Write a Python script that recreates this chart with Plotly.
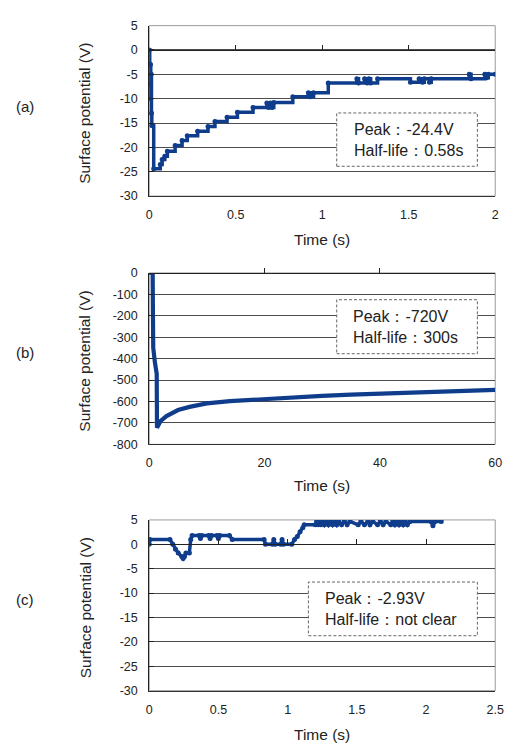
import plotly.graph_objects as go

W, H = 514, 749
LINE_COLOR = "#0f3d8c"
FONT = "Liberation Sans, Arial, sans-serif"

# ---------------- data ----------------
# Panel (a): stepped record, 0-2 s
a_time = [0, 0.003, 0.005, 0.007, 0.009, 0.011, 0.013, 0.015, 0.026, 0.064, 0.075, 0.09,
          0.105, 0.15, 0.19, 0.22, 0.28, 0.34, 0.38, 0.45, 0.51, 0.6, 0.68, 0.69, 0.70,
          0.71, 0.72, 0.83, 0.92, 0.93, 0.95, 1.035, 1.2, 1.21, 1.245, 1.26, 1.27, 1.28,
          1.32, 1.51, 1.56, 1.58, 1.59, 1.62, 1.63, 1.85, 1.86, 1.94, 1.95, 1.96, 2.0]
a_volt = [0, -3, -7, -3, -10, -5, -13, -15.5, -24.4, -23.5, -22.5, -21.8,
          -20.8, -19.6, -18.6, -17.6, -16.7, -15.7, -14.7, -13.8, -12.8, -11.8, -10.9, -11.8, -10.9,
          -11.8, -10.8, -9.6, -8.8, -9.6, -8.8, -6.8, -5.9, -6.8, -5.9, -6.8, -5.9, -6.8,
          -5.9, -6.6, -5.9, -6.6, -5.9, -6.6, -5.9, -5.0, -5.9, -5.0, -5.7, -5.0, -5.0]

# Panel (b): 0-60 s
b_time = [0, 0.6, 0.65, 0.7, 1.0, 1.3, 1.35, 1.6, 2, 3, 4, 5, 7, 10, 14, 20,
          25, 30, 35, 40, 45, 50, 55, 60]
b_volt = [0, 0, -200, -350, -420, -470, -722, -712, -690, -668, -652, -640, -625,
          -609, -598, -588, -580, -574, -568, -564, -559, -555, -550, -546]

# Panel (c): 0-2.11 s
c_time = [0.0, 0.005, 0.15, 0.17, 0.19, 0.21, 0.235, 0.245, 0.255, 0.265, 0.29, 0.30, 0.31,
          0.36, 0.37, 0.38, 0.43, 0.44, 0.45, 0.49, 0.50, 0.51, 0.58, 0.60, 0.83, 0.84,
          0.89, 0.90, 0.91, 0.95, 0.96, 0.97, 1.03, 1.05, 1.07, 1.09, 1.11, 1.12, 1.20,
          1.21, 1.22, 1.23, 1.24, 1.25, 1.265, 1.28, 1.295, 1.31, 1.325, 1.34, 1.355,
          1.37, 1.39, 1.41, 1.43, 1.45, 1.51, 1.53, 1.555, 1.58, 1.595, 1.615, 1.65,
          1.67, 1.69, 1.71, 1.745, 1.76, 1.775, 1.79, 1.805, 1.82, 1.835, 1.85, 1.865,
          1.885, 2.035, 2.05, 2.065, 2.11]
c_volt = [0.0, 1.0, 1.0, 0.0, -1.0, -1.8, -2.5, -2.93, -2.5, -1.8, -1.8, 1.0, 1.8,
          1.8, 1.2, 1.8, 1.8, 1.2, 1.8, 1.8, 1.2, 1.8, 1.8, 1.0, 1.0, 0.0,
          0.0, 1.0, 0.0, 0.0, 1.0, 0.0, 0.0, 1.0, 1.6, 2.6, 3.4, 4.0, 4.0,
          4.7, 4.0, 4.7, 4.0, 4.7, 4.0, 4.7, 4.0, 4.7, 4.0, 4.7, 4.0,
          4.7, 4.0, 4.7, 4.0, 4.7, 4.0, 4.7, 4.0, 4.7, 4.0, 4.7, 4.0,
          4.7, 4.0, 4.7, 4.0, 4.7, 4.0, 4.7, 4.0, 4.7, 4.0, 4.7, 4.0,
          4.7, 4.7, 3.8, 4.7, 4.7]

# ticks
a_x_ticks = [0, 0.5, 1, 1.5, 2]
a_x_labels = ["0", "0.5", "1", "1.5", "2"]
a_y_ticks = [5, 0, -5, -10, -15, -20, -25, -30]
a_y_labels = ["5", "0", "-5", "-10", "-15", "-20", "-25", "-30"]
b_x_ticks = [0, 20, 40, 60]
b_x_labels = ["0", "20", "40", "60"]
b_y_ticks = [0, -100, -200, -300, -400, -500, -600, -700, -800]
b_y_labels = ["0", "-100", "-200", "-300", "-400", "-500", "-600", "-700", "-800"]
c_x_ticks = [0, 0.5, 1, 1.5, 2, 2.5]
c_x_labels = ["0", "0.5", "1", "1.5", "2", "2.5"]
c_y_ticks = [5, 0, -5, -10, -15, -20, -25, -30]
c_y_labels = ["5", "0", "-5", "-10", "-15", "-20", "-25", "-30"]

panel_labels = ["(a)", "(b)", "(c)"]
box_texts = ["Peak：-24.4V<br>Half-life：0.58s",
             "Peak：-720V<br>Half-life：300s",
             "Peak：-2.93V<br>Half-life：not clear"]
x_title = "Time (s)"
y_title = "Surface potential (V)"

# ---------------- layout helpers ----------------
def px(x):
    return x / W

def py(y):
    return 1 - y / H

PL, PR = 149.7, 504.0
panels = [
    dict(top=19.0, bottom=192.7, xr=[0, 2], yr=[-30, 5], t=a_time, v=a_volt, shape="hv",
         xt=a_x_ticks, xl=a_x_labels, yt=a_y_ticks, yl=a_y_labels, markers=True, lw=3.5,
         xtitle_y=237, label_y=101, box=(341.7, 108, 485.7, 162.3), text_x=357.5),
    dict(top=271.0, bottom=445.7, xr=[0, 60], yr=[-800, 0], t=b_time, v=b_volt, shape="linear",
         xt=b_x_ticks, xl=b_x_labels, yt=b_y_ticks, yl=b_y_labels, markers=False, lw=4.2,
         xtitle_y=488, label_y=352, box=(341.7, 298.3, 485.7, 353.3), text_x=356.5),
    dict(top=522.7, bottom=696.7, xr=[0, 2.5], yr=[-30, 5], t=c_time, v=c_volt, shape="linear",
         xt=c_x_ticks, xl=c_x_labels, yt=c_y_ticks, yl=c_y_labels, markers=True, lw=3.5,
         xtitle_y=741, label_y=604, box=(312.7, 586, 485.7, 640.7), text_x=327.5),
]

fig = go.Figure()
layout = dict(width=W, height=H, margin=dict(l=0, r=0, t=0, b=0),
              paper_bgcolor="white", plot_bgcolor="white", showlegend=False,
              hovermode=False, dragmode=False,
              font=dict(family=FONT, color="#222"))
shapes = []
annotations = []

for i, p in enumerate(panels):
    n = i + 1
    xk = "x" if n == 1 else f"x{n}"
    yk = "y" if n == 1 else f"y{n}"
    ok = f"x{n + 3}"
    dom_y = [py(p["bottom"]), py(p["top"])]
    dom_x = [px(PL), px(PR)]

    fig.add_trace(go.Scatter(
        x=p["t"], y=p["v"], xaxis=xk, yaxis=yk,
        mode="lines+markers" if p["markers"] else "lines",
        line=dict(color=LINE_COLOR, width=p["lw"], shape=p["shape"]),
        marker=dict(color=LINE_COLOR, size=5),
        cliponaxis=True, hoverinfo="skip"))
    # empty trace for the zero-crossing tick axis
    fig.add_trace(go.Scatter(x=[], y=[], xaxis=ok, yaxis=yk, hoverinfo="skip"))

    layout[f"xaxis{'' if n == 1 else n}"] = dict(
        domain=dom_x, anchor=yk, range=p["xr"], tickmode="array",
        tickvals=p["xt"], ticktext=p["xl"], ticks="", showgrid=False, zeroline=False,
        showline=True, linecolor="#333", linewidth=1, fixedrange=True,
        tickfont=dict(size=12.5, family=FONT, color="#222"), ticklabelstandoff=7)
    layout[f"yaxis{'' if n == 1 else n}"] = dict(
        domain=dom_y, anchor=xk, range=p["yr"], tickmode="array",
        tickvals=p["yt"], ticktext=p["yl"], ticks="inside", ticklen=5, tickcolor="#222",
        showgrid=True, gridcolor="#4d4d4d", gridwidth=1, zeroline=False,
        showline=True, linecolor="#222", linewidth=1, fixedrange=True,
        tickfont=dict(size=12.5, family=FONT, color="#222"), ticklabelstandoff=8)
    y0, y1 = p["yr"]
    zero_pos = dom_y[0] + (0 - y0) / (y1 - y0) * (dom_y[1] - dom_y[0])
    layout[f"xaxis{n + 3}"] = dict(
        overlaying=xk, anchor="free", position=zero_pos, side="bottom", range=p["xr"],
        tickmode="array", tickvals=p["xt"], showticklabels=False, ticks="inside",
        ticklen=5, tickcolor="#222", showline=True, linecolor="#222", linewidth=1,
        showgrid=False, zeroline=False, fixedrange=True)

    # plot-area frame
    shapes.append(dict(type="rect", xref=f"{xk} domain", yref=f"{yk} domain",
                       x0=0, x1=1, y0=0, y1=1, line=dict(color="#9a9a9a", width=1),
                       layer="below"))
    # dashed info box
    bx0, by0, bx1, by1 = p["box"]
    shapes.append(dict(type="rect", xref="paper", yref="paper",
                       x0=px(bx0), x1=px(bx1), y0=py(by1), y1=py(by0),
                       line=dict(color="#666", width=1, dash="3px,2px"),
                       fillcolor="white", layer="above"))
    annotations.append(dict(xref="paper", yref="paper", x=px(p["text_x"]),
                            y=py((by0 + by1) / 2 + 0.5), xanchor="left", yanchor="middle",
                            align="left", showarrow=False, text=box_texts[i],
                            font=dict(size=16, family=FONT, color="#222")))
    # axis titles
    annotations.append(dict(xref="paper", yref="paper", x=px((PL + PR) / 2),
                            y=py(p["xtitle_y"]), xanchor="center", yanchor="middle",
                            showarrow=False, text=x_title,
                            font=dict(size=15.5, family=FONT, color="#222")))
    annotations.append(dict(xref="paper", yref="paper", x=px(84),
                            y=py((p["top"] + p["bottom"]) / 2 + 3), xanchor="center",
                            yanchor="middle", textangle=-90, showarrow=False, text=y_title,
                            font=dict(size=15.5, family=FONT, color="#222")))
    # panel label
    annotations.append(dict(xref="paper", yref="paper", x=px(23), y=py(p["label_y"]),
                            xanchor="center", yanchor="middle", showarrow=False,
                            text=panel_labels[i],
                            font=dict(size=15, family=FONT, color="#222")))

layout["shapes"] = shapes
layout["annotations"] = annotations
fig.update_layout(**layout)

# place the figure at the window's top-left corner (no page margin / scrollbars)
post_js = (
    "document.documentElement.style.margin='0';"
    "document.documentElement.style.overflow='hidden';"
    "document.body.style.margin='0';"
    "document.body.style.overflow='hidden';"
    "var gd=document.getElementById('{plot_id}');"
    "gd.style.position='absolute';gd.style.left='0px';gd.style.top='0px';"
)
fig.write_html("out.html", post_script=post_js,
               config={"displayModeBar": False, "staticPlot": True})
